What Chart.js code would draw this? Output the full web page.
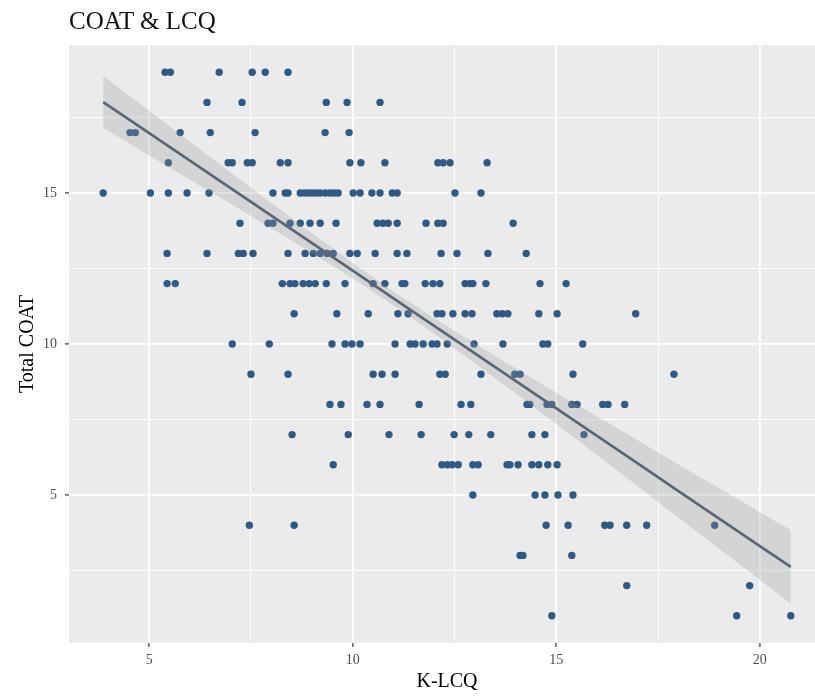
<!DOCTYPE html>
<html>
<head>
<meta charset="utf-8">
<script src="https://cdn.jsdelivr.net/npm/chart.js@4.4.1/dist/chart.umd.min.js"></script>
<style>
  body { margin: 0; background: #fff; overflow: hidden; }
  #wrap { position: relative; width: 830px; height: 700px; }
  #title {
    position: absolute; left: 69px; top: 8px;
    font-family: 'Liberation Serif', serif; font-size: 25px; line-height: 25px;
    color: #111; white-space: nowrap;
  }
</style>
</head>
<body>
<div id="wrap">
  <div id="title">COAT &amp; LCQ</div>
  <canvas id="coatChart" width="830" height="700"></canvas>
</div>
<script>
// Total COAT levels and the K-LCQ scores seen at each level
const coatLevels = [19, 18, 17, 16, 15, 14, 13, 12, 11, 10, 9, 8, 7, 6, 5, 4, 3, 2, 1];
const lcqByLevel = [
  [5.39, 5.52, 6.72, 7.53, 7.85, 8.41],
  [6.42, 7.28, 9.35, 9.86, 10.67],
  [4.53, 4.66, 5.76, 6.50, 7.60, 9.32, 9.91],
  [5.47, 6.94, 7.04, 7.41, 7.53, 8.22, 8.41, 9.93, 10.20, 10.79, 12.09, 12.22, 12.39, 13.30],
  [3.87, 5.03, 5.47, 5.93, 6.47, 8.04, 8.34, 8.41, 8.71, 8.81, 8.90, 9.00, 9.10, 9.20, 9.32, 9.44, 9.54, 9.64, 10.01, 10.18, 10.47, 10.67, 10.97, 11.09, 12.51, 13.15],
  [7.23, 7.92, 8.04, 8.46, 8.71, 8.95, 9.20, 9.59, 10.60, 10.74, 10.87, 11.09, 11.80, 12.09, 12.22, 13.94],
  [5.44, 6.42, 7.19, 7.31, 7.55, 8.41, 8.83, 9.03, 9.20, 9.37, 9.52, 9.93, 10.11, 10.55, 11.09, 11.33, 12.17, 12.56, 13.32, 14.26],
  [5.44, 5.64, 8.27, 8.46, 8.58, 8.78, 8.93, 9.08, 9.35, 9.81, 10.50, 10.79, 11.21, 11.28, 11.78, 11.97, 12.14, 12.76, 12.88, 12.95, 13.27, 14.60, 15.24],
  [8.56, 9.61, 10.38, 11.11, 11.36, 12.07, 12.19, 12.46, 12.76, 12.93, 13.54, 13.67, 13.81, 14.57, 15.02, 16.95],
  [7.04, 7.95, 9.49, 9.81, 9.98, 10.18, 11.04, 11.41, 11.53, 11.73, 11.95, 12.07, 12.32, 12.98, 13.69, 14.67, 14.79, 15.65],
  [7.50, 8.41, 10.50, 10.72, 11.04, 12.14, 12.27, 13.15, 13.98, 14.11, 15.41, 17.89],
  [9.44, 9.71, 10.35, 10.67, 11.63, 12.66, 12.90, 14.28, 14.35, 14.77, 14.89, 15.38, 15.51, 16.14, 16.27, 16.68],
  [8.51, 9.89, 10.89, 11.68, 12.49, 12.85, 13.39, 14.40, 14.72, 15.68],
  [9.52, 12.19, 12.32, 12.44, 12.59, 12.95, 13.08, 13.79, 13.86, 14.06, 14.40, 14.57, 14.79, 15.02],
  [12.95, 14.48, 14.72, 15.04, 15.41],
  [7.46, 8.56, 14.75, 15.29, 16.19, 16.32, 16.73, 17.22, 18.89],
  [14.11, 14.18, 15.38],
  [16.73, 19.75],
  [14.89, 19.43, 20.76],
];

// fitted line and its confidence band, read at a few K-LCQ positions
const fitX     = [3.87, 5, 6, 7, 8, 9, 10, 11, 12, 13, 14, 15, 16, 17, 18, 19, 20, 20.76];
const fitY     = [18.01, 16.98, 16.07, 15.16, 14.25, 13.34, 12.43, 11.51, 10.60, 9.69, 8.78, 7.87, 6.96, 6.05, 5.13, 4.22, 3.31, 2.62];
const bandHigh = [18.87, 17.72, 16.70, 15.68, 14.67, 13.67, 12.69, 11.74, 10.86, 10.02, 9.20, 8.39, 7.60, 6.81, 6.01, 5.22, 4.43, 3.84];
const bandLow  = [17.15, 16.24, 15.44, 14.64, 13.83, 13.01, 12.17, 11.28, 10.34, 9.36, 8.36, 7.35, 6.32, 5.29, 4.25, 3.22, 2.19, 1.40];

const xMajor = [5, 10, 15, 20];
const xMinor = [7.5, 12.5, 17.5];
const yMajor = [5, 10, 15];
const yMinor = [2.5, 7.5, 12.5, 17.5];

const points = coatLevels.flatMap((c, i) => lcqByLevel[i].map(v => ({ x: v, y: c })));
const pair = (xs, ys) => xs.map((x, i) => ({ x: x, y: ys[i] }));

const serif = 'Liberation Serif';

// grey panel behind the data, like ggplot's theme_grey
const panelBg = {
  id: 'panelBg',
  beforeDraw(chart) {
    const a = chart.chartArea;
    const ctx = chart.ctx;
    ctx.save();
    ctx.fillStyle = '#EBEBEB';
    ctx.fillRect(a.left, a.top, a.right - a.left, a.bottom - a.top);
    ctx.restore();
  },
};

function gridFor(major) {
  return {
    color: '#FFFFFF',
    lineWidth: (ctx) => major.includes(ctx.tick && ctx.tick.value) ? 1.8 : 0.9,
    tickColor: (ctx) => major.includes(ctx.tick && ctx.tick.value) ? '#333333' : 'rgba(0,0,0,0)',
    tickWidth: 1.2,
    tickLength: 4,
  };
}

new Chart(document.getElementById('coatChart'), {
  type: 'scatter',
  data: {
    datasets: [
      {
        type: 'line',
        data: pair(fitX, fitY),
        borderColor: '#5a6576',
        borderWidth: 2.6,
        pointRadius: 0,
        fill: false,
        order: 0,
      },
      {
        type: 'line',
        data: pair(fitX, bandHigh),
        borderWidth: 0,
        pointRadius: 0,
        backgroundColor: 'rgba(153,153,153,0.27)',
        fill: '+1',
        order: 1,
      },
      {
        type: 'line',
        data: pair(fitX, bandLow),
        borderWidth: 0,
        pointRadius: 0,
        fill: false,
        order: 2,
      },
      {
        data: points,
        backgroundColor: '#2f5a85',
        borderWidth: 0,
        pointRadius: 3.7,
        order: 3,
      },
    ],
  },
  plugins: [panelBg],
  options: {
    responsive: false,
    animation: false,
    layout: { padding: { top: 45, right: 5, left: 0, bottom: 0 } },
    plugins: {
      legend: { display: false },
      tooltip: { enabled: false },
      title: { display: false },
    },
    scales: {
      x: {
        type: 'linear',
        min: 3.03,
        max: 21.6,
        border: { display: false },
        grid: gridFor(xMajor),
        afterBuildTicks: (s) => { s.ticks = xMajor.concat(xMinor).sort((a, b) => a - b).map(v => ({ value: v })); },
        afterFit: (s) => { s.height = 57; },
        ticks: {
          autoSkip: false,
          maxRotation: 0,
          padding: 5,
          color: '#4D4D4D',
          font: { family: serif, size: 14 },
          callback: (v) => xMajor.includes(v) ? String(v) : '',
        },
        title: {
          display: true,
          text: 'K-LCQ',
          color: '#000',
          font: { family: serif, size: 20 },
          padding: { top: 0, bottom: 6 },
        },
      },
      y: {
        type: 'linear',
        min: 0.1,
        max: 19.9,
        border: { display: false },
        grid: gridFor(yMajor),
        afterBuildTicks: (s) => { s.ticks = yMajor.concat(yMinor).sort((a, b) => a - b).map(v => ({ value: v })); },
        afterFit: (s) => { s.width = 69; },
        ticks: {
          autoSkip: false,
          padding: 8,
          color: '#4D4D4D',
          font: { family: serif, size: 14 },
          callback: (v) => yMajor.includes(v) ? String(v) : '',
        },
        title: {
          display: true,
          text: 'Total COAT',
          color: '#000',
          font: { family: serif, size: 20 },
          padding: { top: 16, bottom: 0 },
        },
      },
    },
  },
});
</script>
</body>
</html>
